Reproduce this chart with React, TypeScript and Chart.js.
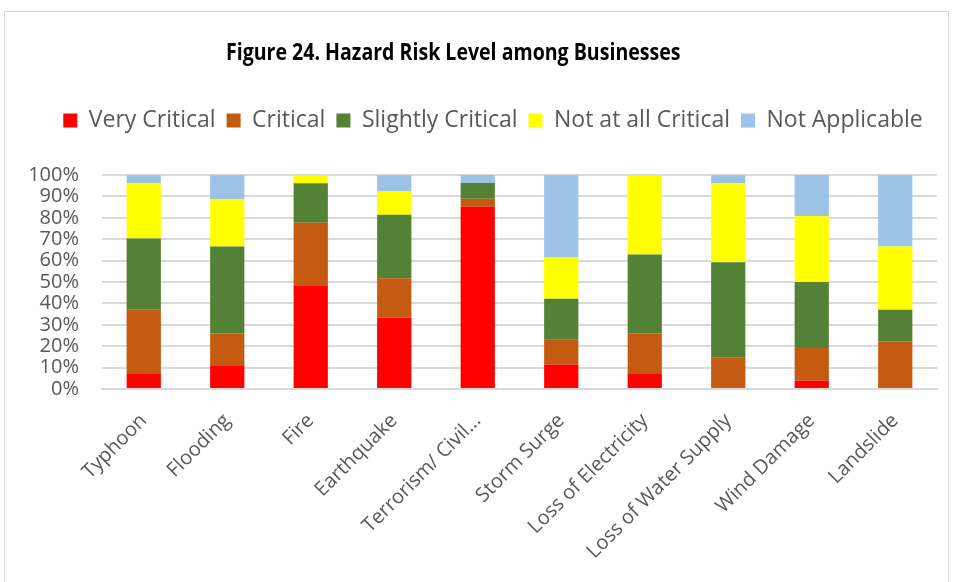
import React, { useEffect, useRef } from "react";
import { Chart, registerables } from "chart.js";

Chart.register(...registerables);

const categories = [
  "Typhoon",
  "Flooding",
  "Fire",
  "Earthquake",
  "Terrorism/ Civil...",
  "Storm Surge",
  "Loss of Electricity",
  "Loss of Water Supply",
  "Wind Damage",
  "Landslide",
];

const veryCritical = [7.4, 11.1, 48.1, 33.3, 85.2, 11.5, 7.4, 0, 3.8, 0];
const critical = [29.6, 14.8, 29.6, 18.5, 3.7, 11.5, 18.5, 14.8, 15.4, 22.2];
const slightlyCritical = [33.3, 40.7, 18.5, 29.6, 7.4, 19.2, 37.0, 44.4, 30.8, 14.8];
const notAtAllCritical = [25.9, 22.2, 3.7, 11.1, 0, 19.2, 37.0, 37.0, 30.8, 29.6];
const notApplicable = [3.7, 11.1, 0, 7.4, 3.7, 38.5, 0, 3.7, 19.2, 33.3];

const seriesNames = ["Very Critical", "Critical", "Slightly Critical", "Not at all Critical", "Not Applicable"];
const seriesColors = ["#FF0000", "#C55A11", "#538135", "#FFFF00", "#9DC3E6"];

const titleText = "Figure 24. Hazard Risk Level among Businesses";

const FONT = "'Open Sans', 'DejaVu Sans', sans-serif";

// moves the legend so that its row sits where the reference has it
const legendPlacer = {
  id: "legendPlacer",
  afterLayout(chart: any) {
    const lg = chart.legend;
    if (!lg) return;
    const targetCenterX = 493;
    const targetTop = 98;
    const dx = targetCenterX - (lg.left + lg.right) / 2;
    const dy = targetTop - lg.top;
    lg.left += dx;
    lg.right += dx;
    lg.top += dy;
    lg.bottom += dy;
  },
};

export default function App() {
  const canvasRef = useRef<HTMLCanvasElement | null>(null);

  useEffect(() => {
    const canvas = canvasRef.current;
    if (!canvas) return;
    const seriesData = [veryCritical, critical, slightlyCritical, notAtAllCritical, notApplicable];
    const chart = new Chart(canvas, {
      type: "bar",
      data: {
        labels: categories,
        datasets: seriesNames.map((name, i) => ({
          label: name,
          data: seriesData[i],
          backgroundColor: seriesColors[i],
          borderWidth: 0,
          barPercentage: 0.41,
          categoryPercentage: 1,
        })),
      },
      plugins: [legendPlacer],
      options: {
        responsive: false,
        animation: false,
        layout: { padding: { left: 15, right: 19, top: 131, bottom: 0 } },
        plugins: {
          title: { display: false },
          tooltip: { enabled: false },
          legend: {
            display: true,
            position: "top",
            labels: {
              boxWidth: 14,
              boxHeight: 14,
              padding: 11,
              color: "#595959",
              font: { family: FONT, size: 23 },
            },
          },
        },
        scales: {
          x: {
            stacked: true,
            grid: { display: false, drawTicks: false },
            border: { display: true, color: "#d9d9d9", width: 2 },
            ticks: {
              color: "#595959",
              font: { family: FONT, size: 20 },
              maxRotation: 45,
              minRotation: 45,
              autoSkip: false,
              padding: 20,
            },
            afterFit: (scale: any) => {
              scale.height = 193;
            },
          },
          y: {
            stacked: true,
            min: 0,
            max: 100,
            grid: { color: "#d9d9d9", lineWidth: 2, drawTicks: false },
            border: { display: false },
            ticks: {
              stepSize: 10,
              autoSkip: false,
              color: "#595959",
              font: { family: FONT, size: 20 },
              padding: 23,
              callback: (v: any) => v + "%",
            },
            afterFit: (scale: any) => {
              scale.width = 87;
            },
          },
        },
      },
    });
    return () => chart.destroy();
  }, []);

  return (
    <div style={{ position: "absolute", left: 0, top: 0, width: 956, height: 582, background: "#fff", overflow: "hidden" }}>
      <div
        style={{
          position: "absolute",
          left: 4,
          top: 11,
          width: 945,
          height: 620,
          border: "1px solid #d9d9d9",
          boxSizing: "border-box",
        }}
      />
      <canvas ref={canvasRef} width={956} height={582} style={{ position: "absolute", left: 0, top: 0 }} />
      <div
        style={{
          position: "absolute",
          left: 226,
          top: 36,
          fontFamily: FONT,
          fontWeight: "bold",
          fontSize: 23,
          color: "#000",
          whiteSpace: "nowrap",
          lineHeight: "30px",
          transform: "scaleX(0.85)",
          transformOrigin: "left center",
        }}
      >
        {titleText}
      </div>
    </div>
  );
}
